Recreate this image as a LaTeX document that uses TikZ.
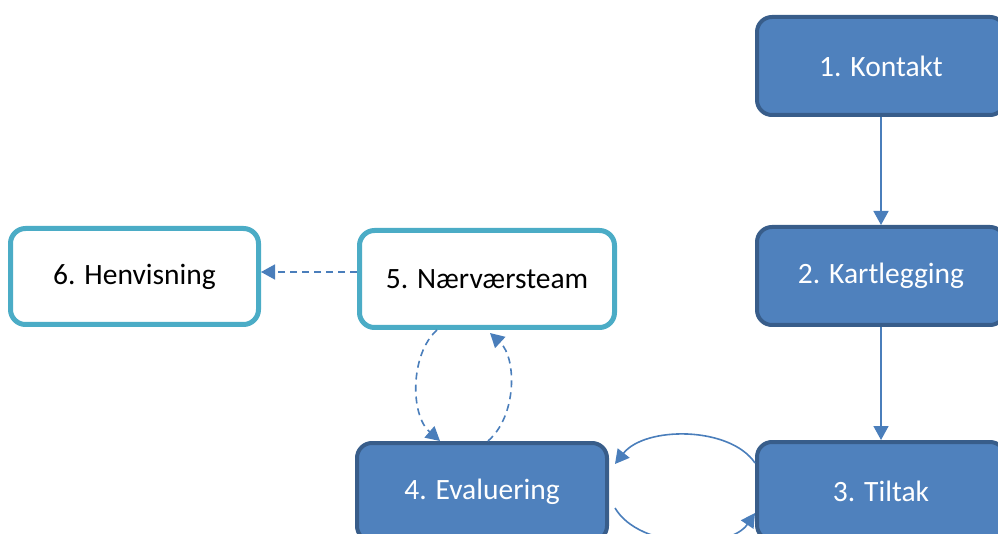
\documentclass[tikz,border=0pt]{standalone}
\usepackage{fontspec}
\setmainfont{Carlito}
\usetikzlibrary{arrows.meta}
\definecolor{boxfill}{HTML}{4F81BD}
\definecolor{boxline}{HTML}{385D8A}
\definecolor{tealline}{HTML}{4BACC6}
\definecolor{arrowcol}{HTML}{4A7EBB}
\tikzset{
  bluebox/.style={draw=boxline, fill=boxfill, line width=4pt, rounded corners=15pt,
    minimum width=248pt, minimum height=98pt, text=white, font=\fontsize{29.5}{35}\selectfont, inner sep=0pt},
  whitebox/.style={draw=tealline, fill=white, line width=5pt, rounded corners=15pt,
    minimum width=250pt, minimum height=97pt, text=black, font=\fontsize{29.5}{35}\selectfont, inner sep=0pt},
  conn/.style={draw=arrowcol, line width=1.6pt, -{Triangle[width=15pt,length=14pt]}},
  dconn/.style={conn, dash pattern=on 7pt off 5pt},
}
\begin{document}
\begin{tikzpicture}[x=1pt,y=-1pt]
\useasboundingbox (0,0) rectangle (998,534);
\node[bluebox] (n1) at (881,66) {1. Kontakt};
\node[bluebox] (n2) at (881,276) {2. Kartlegging};
\node[bluebox] (n3) at (881,491) {3. Tiltak};
\node[bluebox, minimum width=250pt] (n4) at (482,492) {4. Evaluering};
\node[whitebox, minimum width=255pt] (n5) at (487,279) {5. Nærværsteam};
\node[whitebox, minimum width=248pt, minimum height=96pt] (n6) at (134.5,276.5) {6. Henvisning};
\draw[conn] (n1) -- (n2);
\draw[conn] (n2) -- (n3);
\draw[dconn] (n5.west |- 0,272) -- (n6.east |- 0,272);
\draw[dconn] ([xshift=-50pt]n5.south) .. controls +(-27,24) and +(-30,-26) .. ([xshift=-42pt]n4.north);
\draw[dconn] ([xshift=6pt]n4.north) .. controls +(29,-25) and +(27,25) .. ([xshift=3pt,yshift=-3pt]n5.south);
\draw[conn] ([yshift=28pt]n3.west) .. controls +(-25,-37) and +(30,-38) .. ([xshift=6pt,yshift=28pt]n4.east);
\draw[conn] ([xshift=6pt,yshift=-16pt]n4.east) .. controls +(25,42) and +(-25,37) .. ([yshift=-22pt]n3.west);
\end{tikzpicture}
\end{document}
